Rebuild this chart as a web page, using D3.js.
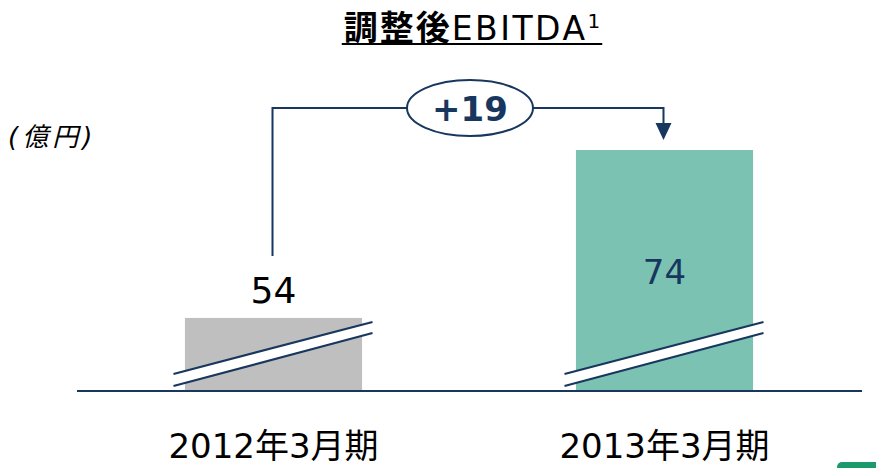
<!DOCTYPE html>
<html>
<head>
<meta charset="utf-8">
<script src="https://d3js.org/d3.v7.min.js"></script>
<style>
    body { margin: 0; background: #fff; }
    text { font-family: "DejaVu Sans", "Noto Sans CJK JP", sans-serif; }
</style>
</head>
<body>
<div id="chart"></div>
<script>
    // data
    let periods = ["2012年3月期", "2013年3月期"];
    let ebitda = [54, 74];
    let deltaLabel = "+19";
    let unitLabel = "(億円)";
    let titleMain = "調整後";
    let titleRest = "EBITDA";
    let titleNote = "1";

    let width = 876, height = 468;
    let navy = "#17375e";
    let barColors = ["#bfbfbf", "#7cc2b3"];

    let svg = d3.select("#chart").append("svg")
        .attr("width", width)
        .attr("height", height);

    let x = d3.scaleBand()
        .domain(periods)
        .range([78, 860])
        .paddingInner(0.547)
        .paddingOuter(0.2735);

    // broken axis: the bars don't start at zero
    let y = d3.scaleLinear()
        .domain([45.3, 74])
        .range([391, 150]);

    // title
    let title = svg.append("text")
        .attr("x", 472)
        .attr("y", 40)
        .attr("text-anchor", "middle")
        .style("font-size", "33px")
        .attr("fill", "#000");
    title.append("tspan").attr("font-weight", "bold")
        .style("font-family", "'Noto Sans CJK JP'")
        .style("letter-spacing", "2px")
        .style("font-size", "34px").text(titleMain);
    title.append("tspan").style("font-family", "'DejaVu Sans'")
        .style("letter-spacing", "2.5px").text(titleRest);
    title.append("tspan").attr("dy", -12).style("font-size", "20px").text(titleNote);
    let tb = title.node().getBBox();
    svg.append("line")
        .attr("x1", tb.x - 2).attr("x2", tb.x + tb.width + 2)
        .attr("y1", 44).attr("y2", 44)
        .attr("stroke", "#000").attr("stroke-width", 2);

    // unit
    svg.append("text")
        .attr("x", 8)
        .attr("y", 146)
        .style("font-size", "26px")
        .style("font-style", "italic")
        .style("letter-spacing", "4px")
        .text(unitLabel);

    // bars
    svg.selectAll(".bar")
        .data(ebitda)
        .join("rect")
        .attr("class", "bar")
        .attr("x", (d, i) => x(periods[i]))
        .attr("width", x.bandwidth())
        .attr("y", d => y(d))
        .attr("height", d => y.range()[0] - y(d))
        .attr("fill", (d, i) => barColors[i]);

    // axis break marks
    periods.forEach(p => {
        let cx = x(p) + x.bandwidth() / 2;
        let x0 = cx - 100, x1 = cx + 99;
        svg.append("polygon")
            .attr("points", [[x0, 374], [x1, 322], [x1, 333], [x0, 386]].join(" "))
            .attr("fill", "#fff");
        [[374, 322], [386, 333]].forEach(([ya, yb]) => {
            svg.append("line")
                .attr("x1", x0).attr("y1", ya)
                .attr("x2", x1).attr("y2", yb)
                .attr("stroke", navy).attr("stroke-width", 2.2);
        });
    });

    // baseline
    svg.append("line")
        .attr("x1", 77).attr("x2", 862)
        .attr("y1", 391).attr("y2", 391)
        .attr("stroke", navy).attr("stroke-width", 1.8);

    // value labels
    svg.append("text")
        .attr("x", x(periods[0]) + x.bandwidth() / 2)
        .attr("y", y(ebitda[0]) - 15)
        .attr("text-anchor", "middle")
        .style("font-size", "36px")
        .attr("fill", "#000")
        .text(ebitda[0]);
    svg.append("text")
        .attr("x", x(periods[1]) + x.bandwidth() / 2)
        .attr("y", y(ebitda[1]) + 134)
        .attr("text-anchor", "middle")
        .style("font-size", "34px")
        .attr("fill", navy)
        .text(ebitda[1]);

    // category labels
    svg.selectAll(".cat")
        .data(periods)
        .join("text")
        .attr("class", "cat")
        .attr("x", d => x(d) + x.bandwidth() / 2)
        .attr("y", 458)
        .attr("text-anchor", "middle")
        .style("font-size", "34px")
        .attr("fill", "#000")
        .text(d => d);

    // difference connector
    let ax = x(periods[0]) + x.bandwidth() / 2 - 1;
    let bx = x(periods[1]) + x.bandwidth() / 2 - 1;
    let topY = 108;
    svg.append("path")
        .attr("d", `M${ax},256 V${topY} H${bx} V124`)
        .attr("fill", "none")
        .attr("stroke", navy)
        .attr("stroke-width", 2);
    svg.append("path")
        .attr("d", `M${bx - 8},123 L${bx + 8},123 L${bx},${y(ebitda[1]) - 10} Z`)
        .attr("fill", navy);
    svg.append("ellipse")
        .attr("cx", 470).attr("cy", topY)
        .attr("rx", 63).attr("ry", 28)
        .attr("fill", "#fff")
        .attr("stroke", navy).attr("stroke-width", 2);
    svg.append("text")
        .attr("x", 470)
        .attr("y", 121)
        .attr("text-anchor", "middle")
        .style("font-size", "34px")
        .attr("font-weight", "bold")
        .attr("fill", navy)
        .text(deltaLabel);

    // logo corner
    svg.append("rect")
        .attr("x", 837).attr("y", 462)
        .attr("width", 50).attr("height", 20)
        .attr("rx", 5)
        .attr("fill", "#1d9a6c");
</script>
</body>
</html>
